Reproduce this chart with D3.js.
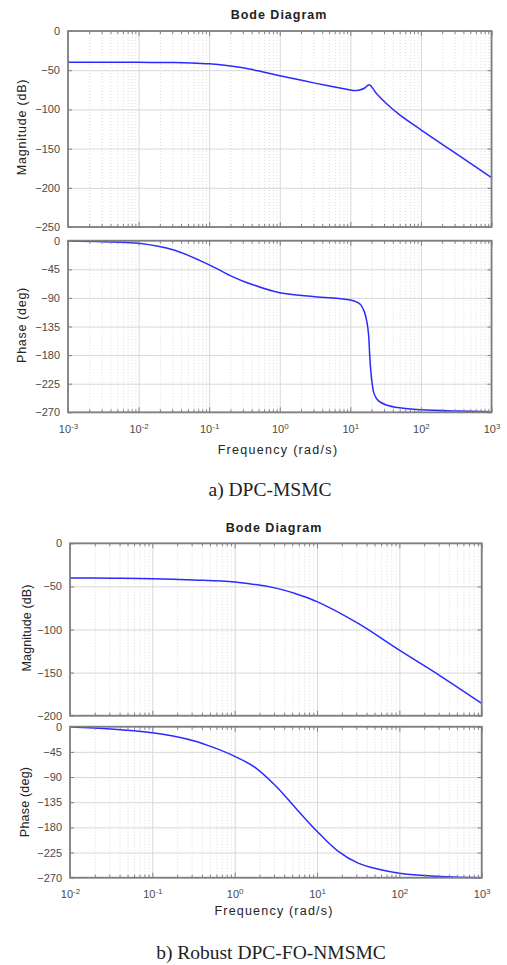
<!DOCTYPE html>
<html>
<head>
<meta charset="utf-8">
<script src="https://cdn.jsdelivr.net/npm/d3@7"></script>
<style>
  html, body { margin: 0; padding: 0; background: #fff; }
  svg { display: block; }
  text { font-family: "Liberation Sans", Arial, sans-serif; }
</style>
</head>
<body>
<script>
// ---------------- DATA ----------------
// a) DPC-MSMC
const magA_freq  = [0.001, 0.00316, 0.01, 0.0316, 0.0562, 0.1, 0.178, 0.316, 0.562, 1, 3.16, 10, 11.2, 13.2, 15.8, 18.5, 23.4, 32.4, 50.1, 100, 316, 1000];
const magA_db    = [-40, -40, -40, -40.2, -40.7, -41.8, -44, -47.3, -52, -57, -66.5, -75.3, -76, -75.5, -73, -68.5, -79.6, -92.4, -107, -126, -156.5, -187];
const phaseA_freq = [0.001, 0.00316, 0.01, 0.0316, 0.1, 0.214, 0.316, 1, 3.16, 10, 12.6, 14.1, 15.8, 17.2, 18.2, 18.8, 19.5, 20.4, 21.9, 25.1, 31.6, 50.1, 100, 316, 1000];
const phaseA_deg  = [-0.5, -1.5, -4.2, -14.7, -38, -56.6, -64.5, -81.8, -88, -93.3, -97, -101, -112, -128, -150, -180, -205, -225, -242, -252, -258, -263, -266, -268, -269];
const magA_ticks   = [0, -50, -100, -150, -200, -250];
const phaseA_ticks = [0, -45, -90, -135, -180, -225, -270];
const decadesA = [-3, -2, -1, 0, 1, 2, 3];

// b) Robust DPC-FO-NMSMC
const magB_freq = [0.01, 0.0316, 0.1, 0.316, 1, 3.16, 5.62, 10, 31.6, 100, 316, 1000];
const magB_db   = [-40.2, -40.5, -41, -42.5, -45, -52, -58.8, -67.7, -93, -124, -154, -185.7];
const phaseB_freq = [0.01, 0.0316, 0.1, 0.178, 0.316, 0.562, 1, 1.78, 3.16, 5.62, 10, 17.8, 31.6, 56.2, 100, 316, 1000];
const phaseB_deg  = [-0.5, -4, -10.7, -16.5, -25, -37.5, -53, -73, -106, -147, -187, -222, -244, -255, -262, -268, -270];
const magB_ticks   = [0, -50, -100, -150, -200];
const phaseB_ticks = [0, -45, -90, -135, -180, -225, -270];
const decadesB = [-2, -1, 0, 1, 2, 3];

const titleText = "Bode Diagram";
const magLabel = "Magnitude (dB)";
const phaseLabel = "Phase (deg)";
const freqLabel = "Frequency (rad/s)";
const captionA = "a) DPC-MSMC";
const captionB = "b) Robust DPC-FO-NMSMC";

// ---------------- DRAWING ----------------
const W = 507, H = 965;
const svg = d3.select("body").append("svg").attr("width", W).attr("height", H);

const LINE = "#2a2aff", FRAME = "#7f7f7f", TICKTXT = "#4a4a4a", GRID = "#d8d8d8", MINOR = "#d2d2d2";

function minorValues(xs) {
  const [a, b] = xs.domain();
  const out = [];
  for (let e = Math.round(Math.log10(a)); e < Math.round(Math.log10(b)); e++) {
    for (let k = 2; k <= 9; k++) out.push(k * Math.pow(10, e));
  }
  return out;
}

function pane(x, y, yTicks, freq, vals, decades, showX) {
  const [x0, x1] = x.range();
  const [ya, yb] = y.range();
  const top = Math.min(ya, yb), bottom = Math.max(ya, yb);
  const h = bottom - top, w = x1 - x0;
  const g = svg.append("g");
  const majors = decades.map(d => Math.pow(10, d));
  const minors = minorValues(x);

  // minor vertical grid (dotted)
  g.append("g").attr("transform", `translate(0,${bottom})`)
    .call(d3.axisBottom(x).tickValues(minors).tickSize(-h).tickFormat(""))
    .call(s => s.select(".domain").remove())
    .call(s => s.selectAll("line").attr("stroke", MINOR).attr("stroke-width", 0.8).attr("stroke-dasharray", "1,2"));
  // major vertical grid
  g.append("g").attr("transform", `translate(0,${bottom})`)
    .call(d3.axisBottom(x).tickValues(majors).tickSize(-h).tickFormat(""))
    .call(s => s.select(".domain").remove())
    .call(s => s.selectAll("line").attr("stroke", GRID).attr("stroke-width", 1));
  // horizontal grid
  g.append("g").attr("transform", `translate(${x0},0)`)
    .call(d3.axisLeft(y).tickValues(yTicks).tickSize(-w).tickFormat(""))
    .call(s => s.select(".domain").remove())
    .call(s => s.selectAll("line").attr("stroke", GRID).attr("stroke-width", 1));

  // curve
  const data = freq.map((f, i) => [f, vals[i]]);
  g.append("path").datum(data)
    .attr("fill", "none").attr("stroke", LINE).attr("stroke-width", 1.5)
    .attr("d", d3.line().x(d => x(d[0])).y(d => y(d[1])).curve(d3.curveCatmullRom.alpha(0.5)));

  // inward ticks (bottom/top, minor & major)
  [[d3.axisBottom, bottom], [d3.axisTop, top]].forEach(([ax, yy]) => {
    g.append("g").attr("transform", `translate(0,${yy})`)
      .call(ax(x).tickValues(minors).tickSize(-3).tickFormat(""))
      .call(s => s.select(".domain").remove())
      .call(s => s.selectAll("line").attr("stroke", FRAME).attr("stroke-width", 1));
    g.append("g").attr("transform", `translate(0,${yy})`)
      .call(ax(x).tickValues(majors).tickSize(-5).tickFormat(""))
      .call(s => s.select(".domain").remove())
      .call(s => s.selectAll("line").attr("stroke", FRAME).attr("stroke-width", 1));
  });
  [[d3.axisLeft, x0], [d3.axisRight, x1]].forEach(([ax, xx]) => {
    g.append("g").attr("transform", `translate(${xx},0)`)
      .call(ax(y).tickValues(yTicks).tickSize(-4).tickFormat(""))
      .call(s => s.select(".domain").remove())
      .call(s => s.selectAll("line").attr("stroke", FRAME).attr("stroke-width", 1));
  });

  // y tick labels
  g.append("g").attr("transform", `translate(${x0},0)`)
    .call(d3.axisLeft(y).tickValues(yTicks).tickSize(0).tickPadding(8).tickFormat(d3.format("d")))
    .call(s => s.select(".domain").remove())
    .call(s => s.selectAll("text").attr("fill", TICKTXT).style("font-size", "11px")
      .style("font-family", '"Liberation Sans", Arial, sans-serif'));

  // x tick labels with superscripts
  if (showX) {
    g.append("g").attr("transform", `translate(0,${bottom})`)
      .call(d3.axisBottom(x).tickValues(majors).tickSize(0).tickPadding(13).tickFormat(""))
      .call(s => s.select(".domain").remove())
      .call(s => s.selectAll(".tick text").each(function(d) {
        const t = d3.select(this).attr("fill", TICKTXT).style("font-size", "11px")
          .style("font-family", '"Liberation Sans", Arial, sans-serif');
        t.text("");
        t.append("tspan").text("10");
        t.append("tspan").attr("dy", "-0.5em").style("font-size", "8px").text(String(Math.round(Math.log10(d))));
      }));
  }

  // frame
  g.append("rect").attr("x", x0).attr("y", top).attr("width", w).attr("height", h)
    .attr("fill", "none").attr("stroke", FRAME).attr("stroke-width", 1.8);
  return g;
}

function yLabel(text, cx, cy, spacing) {
  svg.append("text").attr("transform", `translate(${cx},${cy}) rotate(-90)`)
    .attr("text-anchor", "middle").attr("dominant-baseline", "central")
    .attr("fill", "#222").style("font-size", "12.5px").style("letter-spacing", spacing + "px").text(text);
}
function plainText(text, cx, cy, size, opts = {}) {
  const t = svg.append("text").attr("x", cx).attr("y", cy).attr("text-anchor", "middle")
    .attr("fill", opts.fill || "#222").style("font-size", size + "px").text(text);
  if (opts.bold) t.style("font-weight", "bold");
  if (opts.spacing) t.style("letter-spacing", opts.spacing + "px");
  if (opts.serif) t.style("font-family", '"Liberation Serif", "Times New Roman", serif');
  return t;
}

// ---- Panel a ----
const xA = d3.scaleLog().domain([1e-3, 1e3]).range([68, 491.5]);
const yMagA = d3.scaleLinear().domain([0, -250]).range([31, 227]);
const yPhA = d3.scaleLinear().domain([0, -270]).range([240.7, 412.3]);
pane(xA, yMagA, magA_ticks, magA_freq, magA_db, decadesA, false);
pane(xA, yPhA, phaseA_ticks, phaseA_freq, phaseA_deg, decadesA, true);
plainText(titleText, 279, 19, 12.5, { bold: true, spacing: 1 });
yLabel(magLabel, 22, 127, 0.8);
yLabel(phaseLabel, 22, 325, 0.7);
plainText(freqLabel, 278, 454, 12.5, { spacing: 1.3 });
plainText(captionA, 270, 496, 19.5, { serif: true });

// ---- Panel b ----
const xB = d3.scaleLog().domain([1e-2, 1e3]).range([70, 481.7]);
const yMagB = d3.scaleLinear().domain([0, -200]).range([543.3, 715.7]);
const yPhB = d3.scaleLinear().domain([0, -270]).range([726.7, 877.7]);
pane(xB, yMagB, magB_ticks, magB_freq, magB_db, decadesB, false);
pane(xB, yPhB, phaseB_ticks, phaseB_freq, phaseB_deg, decadesB, true);
plainText(titleText, 274, 532, 12.5, { bold: true, spacing: 1 });
yLabel(magLabel, 27, 628, 0.1);
yLabel(phaseLabel, 25, 802, 0.2);
plainText(freqLabel, 274, 915, 12.5, { spacing: 1.2 });
plainText(captionB, 271, 959, 19.5, { serif: true });
</script>
</body>
</html>
